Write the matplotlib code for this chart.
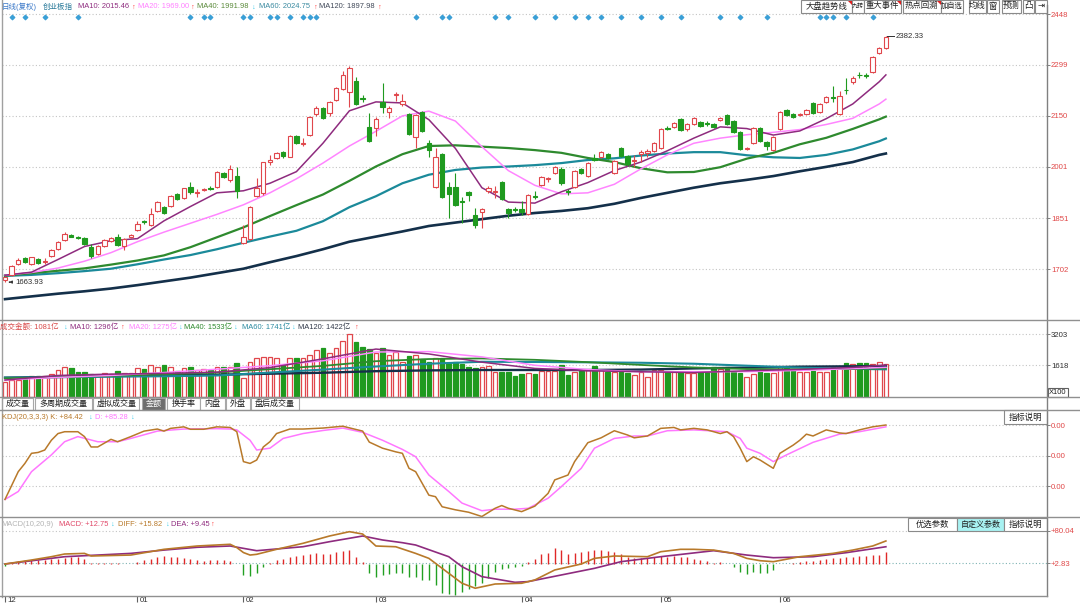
import matplotlib
matplotlib.use("Agg")
import matplotlib.pyplot as plt
from matplotlib.patches import Rectangle, Polygon
from matplotlib.lines import Line2D
from matplotlib.transforms import ScaledTranslation

plt.rcParams['font.family'] = ['Liberation Sans', 'Noto Sans CJK SC', 'DejaVu Sans']

# ---------------- data ----------------
month_labels = ['12', '01', '02', '03', '04', '05', '06']
month_start = [0, 20, 36, 56, 78, 99, 117]

opens = [1670, 1685, 1716, 1733, 1717, 1731, 1724, 1740, 1760, 1787,
         1802, 1796, 1794, 1767, 1746, 1769, 1785, 1797, 1769, 1795,
         1816, 1842, 1830, 1872, 1883, 1887, 1921, 1909, 1943, 1925,
         1934, 1939, 1943, 1982, 1962, 1974, 1777, 1789, 1916, 1924,
         2016, 2026, 2045, 2031, 2090, 2068, 2094, 2155, 2172, 2158,
         2196, 2228, 2221, 2252, 2202, 2118, 2115, 2191, 2162, 2211,
         2184, 2155, 2087, 2161, 2072, 1943, 2039, 1943, 1943, 1900,
         1926, 1860, 1870, 1931, 1927, 1958, 1877, 1879, 1877, 1863,
         1917, 1948, 1966, 1984, 1995, 1930, 1941, 1995, 1975, 2028,
         2031, 2038, 1982, 2055, 2034, 2019, 2040, 2042, 2047, 2055,
         2116, 2118, 2140, 2111, 2125, 2131, 2129, 2125, 2138, 2153,
         2135, 2102, 2054, 2072, 2115, 2074, 2050, 2112, 2167, 2155,
         2154, 2155, 2187, 2162, 2191, 2204, 2155, 2227, 2250, 2271,
         2269, 2279, 2333, 2348]
closes = [1678, 1711, 1728, 1722, 1736, 1721, 1727, 1758, 1780, 1804,
          1797, 1794, 1775, 1740, 1769, 1787, 1792, 1772, 1790, 1802,
          1834, 1839, 1863, 1897, 1867, 1916, 1906, 1938, 1926, 1927,
          1936, 1937, 1985, 1972, 1994, 1931, 1797, 1884, 1940, 2014,
          2021, 2042, 2033, 2090, 2072, 2072, 2148, 2174, 2145, 2190,
          2231, 2270, 2291, 2185, 2200, 2077, 2140, 2177, 2172, 2214,
          2194, 2097, 2153, 2106, 2050, 2031, 1914, 1921, 1889, 1898,
          1919, 1831, 1878, 1940, 1929, 1907, 1865, 1876, 1869, 1919,
          1912, 1972, 1968, 2000, 1955, 1926, 1989, 1982, 2011, 2021,
          2045, 2026, 2019, 2033, 2008, 2022, 2043, 2046, 2072, 2113,
          2112, 2128, 2109, 2126, 2143, 2121, 2127, 2118, 2145, 2125,
          2104, 2053, 2056, 2115, 2077, 2063, 2089, 2161, 2153, 2148,
          2156, 2167, 2158, 2184, 2206, 2202, 2209, 2225, 2262, 2269,
          2267, 2321, 2348, 2380]
highs = [1681, 1714, 1733, 1736, 1738, 1733, 1734, 1760, 1783, 1811,
         1805, 1800, 1797, 1776, 1771, 1790, 1795, 1806, 1793, 1805,
         1842, 1846, 1880, 1900, 1886, 1918, 1924, 1940, 1958, 1935,
         1940, 1946, 1988, 1985, 2006, 2000, 1831, 1886, 1967, 2016,
         2035, 2045, 2048, 2093, 2095, 2085, 2150, 2178, 2175, 2193,
         2234, 2280, 2297, 2265, 2210, 2158, 2146, 2246, 2180, 2220,
         2215, 2158, 2156, 2164, 2081, 2057, 2042, 1958, 1983, 1914,
         1929, 1880, 1880, 1945, 1945, 1961, 1880, 1884, 1900, 1921,
         1930, 1974, 1972, 2003, 2000, 1936, 1992, 1998, 2014, 2040,
         2048, 2041, 2022, 2058, 2037, 2035, 2050, 2052, 2075, 2115,
         2120, 2131, 2143, 2129, 2146, 2134, 2134, 2128, 2148, 2156,
         2138, 2105, 2060, 2118, 2118, 2077, 2092, 2164, 2170, 2158,
         2160, 2170, 2190, 2187, 2209, 2237, 2222, 2260, 2266, 2278,
         2277, 2324, 2352, 2382.33]
lows = [1663.93, 1683, 1713, 1719, 1715, 1718, 1717, 1737, 1757, 1785,
        1795, 1790, 1772, 1735, 1743, 1766, 1782, 1769, 1758, 1792,
        1813, 1835, 1828, 1869, 1863, 1885, 1903, 1906, 1923, 1912,
        1930, 1933, 1940, 1969, 1958, 1909, 1774, 1786, 1912, 1920,
        2005, 2023, 2028, 2029, 2068, 2062, 2090, 2150, 2142, 2150,
        2193, 2225, 2177, 2182, 2190, 2074, 2092, 2158, 2145, 2195,
        2180, 2094, 2056, 2103, 2031, 1940, 1911, 1850, 1886, 1836,
        1900, 1822, 1822, 1925, 1910, 1904, 1852, 1870, 1860, 1860,
        1908, 1945, 1958, 1980, 1948, 1920, 1938, 1979, 1972, 2017,
        2028, 2023, 1979, 2030, 2004, 2000, 2015, 2030, 2044, 2052,
        2108, 2115, 2105, 2107, 2122, 2118, 2120, 2115, 2135, 2122,
        2101, 2050, 2050, 2069, 2074, 2050, 2048, 2109, 2150, 2145,
        2150, 2152, 2155, 2159, 2188, 2190, 2152, 2215, 2242, 2262,
        2260, 2276, 2330, 2345]

# 成交金额
amount = [783, 868, 868, 1039, 1073, 1073, 1090, 1158, 1380, 1550,
          1465, 1294, 1260, 1158, 1124, 1209, 1158, 1329, 1209, 1209,
          1465, 1431, 1635, 1550, 1635, 1550, 1329, 1465, 1516, 1380,
          1414, 1380, 1516, 1516, 1550, 1755, 954, 1806, 1976, 2061,
          2061, 1976, 1635, 2010, 2010, 2010, 2146, 2401, 2487, 2231,
          2487, 2861, 3202, 2827, 2572, 2436, 2231, 2521, 2150, 2290,
          1806, 2095, 2146, 1925, 1806, 1976, 1976, 1755, 1772, 1686,
          1516, 1465, 1550, 1584, 1295, 1295, 1278, 1073, 1158, 1210,
          1175, 1346, 1346, 1346, 1635, 1124, 1295, 1346, 1380, 1584,
          1380, 1295, 1295, 1295, 1243, 1124, 1295, 1039, 1380, 1380,
          1295, 1295, 1295, 1243, 1243, 1295, 1295, 1516, 1414, 1516,
          1295, 1210, 1005, 1175, 1346, 1210, 1243, 1550, 1465, 1414,
          1295, 1295, 1346, 1295, 1295, 1516, 1516, 1720, 1686, 1720,
          1720, 1669, 1772, 1669]

# price moving averages, read every 4th bar
ma_idx = [0, 4, 8, 12, 16, 20, 24, 28, 32, 36, 40, 44, 48, 52, 56, 60, 64, 68,
          72, 76, 80, 84, 88, 92, 96, 100, 104, 108, 112, 116, 120, 124, 128, 132, 133]
ma10 = [1684, 1693, 1730, 1768, 1785, 1791, 1843, 1885, 1925, 1931, 1953, 1987, 2070, 2165,
        2191, 2188, 2139, 2055, 1940, 1898, 1895, 1928, 1955, 1990, 2015, 2048, 2085, 2118,
        2113, 2094, 2106, 2142, 2185, 2250, 2270]
ma20 = [1684, 1692, 1705, 1725, 1750, 1782, 1810, 1836, 1862, 1890, 1925, 1966, 2012, 2062,
        2105, 2150, 2164, 2135, 2060, 1990, 1947, 1922, 1925, 1950, 1995, 2036, 2070, 2085,
        2095, 2102, 2110, 2125, 2143, 2185, 2199]
ma40 = [1683, 1690, 1697, 1704, 1715, 1727, 1742, 1766, 1795, 1824, 1857, 1889, 1920, 1960,
        2002, 2038, 2062, 2064, 2060, 2056, 2050, 2042, 2027, 2015, 1997, 1985, 1986, 2000,
        2025, 2042, 2067, 2086, 2112, 2140, 2148]
ma60 = [1682, 1685, 1690, 1696, 1703, 1716, 1730, 1743, 1760, 1779, 1797, 1814, 1842, 1883,
        1915, 1953, 1978, 1992, 1999, 2002, 2006, 2012, 2021, 2026, 2034, 2040, 2044, 2044,
        2035, 2029, 2027, 2036, 2052, 2076, 2084]
ma120 = [1614, 1622, 1630, 1637, 1645, 1655, 1666, 1677, 1690, 1703, 1722, 1740, 1760, 1782,
         1797, 1812, 1828, 1838, 1848, 1858, 1866, 1872, 1880, 1893, 1910, 1925, 1940, 1953,
         1963, 1974, 1988, 2001, 2015, 2036, 2040]

# amount moving averages, read every 8th bar
vma_idx = [0, 8, 16, 24, 32, 40, 48, 56, 64, 72, 80, 88, 96, 104, 112, 120, 128, 133]
vma10 = [868, 1100, 1170, 1205, 1270, 1500, 1950, 2450, 2200, 1780, 1460, 1340, 1290, 1250, 1340, 1410, 1510, 1635]
vma20 = [868, 1000, 1100, 1250, 1420, 1600, 1850, 2300, 2320, 2050, 1620, 1400, 1295, 1295, 1295, 1360, 1450, 1516]
vma40 = [954, 1010, 1080, 1160, 1250, 1420, 1590, 1830, 1940, 1970, 1900, 1780, 1640, 1510, 1430, 1414, 1430, 1465]
vma60 = [987, 1010, 1040, 1060, 1100, 1250, 1400, 1560, 1700, 1800, 1790, 1772, 1750, 1700, 1600, 1500, 1440, 1414]
vma120 = [987, 1030, 1070, 1100, 1140, 1190, 1240, 1320, 1360, 1380, 1380, 1380, 1400, 1460, 1500, 1550, 1570, 1584]

# KDJ
k_idx = [0, 2, 3, 4, 5, 6, 7, 8, 9, 11, 12, 13, 14, 16, 17, 19, 21, 23, 24, 25, 27, 28, 30, 32,
         34, 35, 36, 37, 38, 39, 40, 41, 43, 45, 48, 51, 54, 55, 57, 59, 60, 61, 62, 64, 65, 66,
         68, 70, 72, 74, 75, 76, 78, 80, 82, 83, 85, 86, 88, 90, 92, 94, 95, 97, 99, 101, 102,
         104, 106, 108, 109, 110, 111, 112, 113, 114, 116, 117, 119, 120, 121, 122, 124, 126,
         127, 129, 131, 133]
k_val = [-22, 23.5, 37, 53.6, 55, 59, 75, 86, 89, 89, 81, 64, 64, 76.5, 72.6, 81, 90, 93.4, 90,
         94.5, 97, 93, 93, 97, 96, 89, 40, 37, 42.6, 64, 72.6, 86, 93.4, 93.4, 95, 98, 90, 72, 62,
         56, 53.6, 29, 23.5, -15, -17.5, -34, -39, -43, -50, -36.5, -32, -36.5, -42, -33, -12,
         10, 18, 40, 71, 79, 90.6, 83.6, 79, 82, 94.5, 96, 92, 94.5, 92, 86, 89, 81, 62, 40, 48,
         42.6, 29, 53.6, 67, 75, 85, 82, 92, 87, 86, 92, 97, 100]
d_idx = [0, 2, 4, 7, 9, 11, 14, 17, 19, 23, 27, 32, 34, 35, 37, 38, 40, 42, 45, 48, 51, 54, 57,
         60, 62, 64, 67, 69, 72, 74, 77, 79, 82, 84, 87, 89, 92, 95, 97, 100, 104, 109, 111, 112,
         114, 116, 118, 122, 126, 129, 133]
d_val = [-22, -9, 23.5, 51, 72.6, 81, 72.6, 72.6, 78, 90, 93.4, 94, 93.4, 92, 75, 59, 62, 78, 86,
         91, 95, 88, 75, 60, 48, 18, -9, -28, -40.5, -38, -38, -36.5, -20, -1, 29, 62, 78, 82, 82,
         90.6, 92, 89, 78, 62, 53.6, 40, 51, 71.6, 85, 89, 97]

# MACD
diff_idx = [0, 4, 7, 9, 12, 13, 19, 24, 29, 34, 35, 36, 37, 38, 41, 45, 49, 52, 54, 55, 56, 59,
            62, 64, 67, 69, 71, 74, 78, 80, 83, 87, 89, 92, 97, 99, 102, 104, 107, 110, 112, 114,
            116, 120, 125, 128, 131, 133]
diff_val = [0.4, 10, 18, 24.5, 26, 19.7, 22, 35.8, 43.8, 47.9, 40, 28, 22, 23.8, 35.8, 50.3, 67.9,
            78.3, 72.7, 58.3, 43.8, 42, 26, 14, -22, -46, -58, -47.8, -46, -38, -14, 0.4, 14,
            19.7, 18, 30, 35.8, 35.8, 34, 26, 14, 8.4, 6, 18, 26, 34, 43.8, 55.9]
dea_idx = [0, 9, 14, 19, 24, 29, 34, 38, 45, 49, 54, 57, 60, 62, 67, 69, 72, 77, 79, 84, 89, 93,
           99, 107, 112, 116, 122, 127, 133]
dea_val = [0.4, 18, 22, 26, 34, 40.7, 43.8, 32.5, 42.1, 54.2, 67.9, 58.3, 51.8, 46.2, 18, -6, -30,
           -43.7, -42, -26, -10, 6, 18, 32.5, 22, 15.6, 18, 27.7, 42]
macd_bar = [-4, 5.6, 8, 9.6, 9.6, 9.6, 9.6, 12, 13.6, 15.3,
            17.7, 17.7, 13.6, 3.2, 3.2, 2.4, 3.2, 2, 0.5, 1.6,
            5.6, 9.6, 12, 17.7, 19.3, 17.7, 17.7, 16, 13.6, 11.2,
            8, 9.6, 9.6, 9.6, 8, 1, -26.5, -29, -21, -6.4,
            3.2, 11.2, 13.6, 17.7, 19.3, 21.7, 25.7, 28, 25.7, 25.7,
            29.7, 32, 33.7, 17.7, 5.6, -21, -30.5, -26.5, -22.5, -21,
            -21, -30.5, -30.5, -38.5, -38.5, -50.6, -69, -70.7, -74.7, -66.6,
            -60.2, -53, -45, -34.5, -18.5, -12.8, -10.4, -8, -4.8, 5.6,
            12, 24, 27.3, 39.3, 33.7, 25.7, 27.3, 29.7, 32, 33.7,
            35.3, 32, 29.7, 24, 17.7, 16, 16, 16, 17.7, 19.3,
            17.7, 19.3, 17.7, 17.7, 13.6, 11.2, 8, 3.2, 5.6, 0.5,
            -6.4, -18.5, -24, -18.5, -21, -21, -14.5, 0.8, 0.5, 3.2,
            5.6, 8, 8, 11.2, 13.6, 16, 16, 17.7, 17.7, 19.3,
            19.3, 21.7, 23.3, 29.7]

# bars flagged with the small blue diamond on top
signal_idx = [1, 3, 6, 11, 28, 30, 31, 36, 37, 40, 41, 43, 45, 46, 47, 62, 66, 67, 74, 76,
              80, 83, 86, 88, 90, 93, 96, 99, 102, 108, 111, 115, 123, 124, 125, 127, 131]

price_ticks = [1702, 1851, 2001, 2150, 2299, 2448]

# ---------------- figure ----------------
W, H = 1080, 607
fig = plt.figure(figsize=(10.8, 6.07), dpi=100)
fig.patch.set_facecolor('white')

RED = '#e0474c'
GREEN = '#1f9a1f'
C10, C20, C40, C60, C120 = '#8e2b7e', '#ff85ff', '#2e8a2e', '#1b8a9a', '#14304a'
KCOL = '#b8792a'
GRID = dict(color='#c4c4c4', linestyle=(0, (1, 2)), linewidth=0.8)
FS = 5.4


def fx(x):
    return x / W


def fy(y):
    return 1 - y / H


def panel(y0, y1):
    ax = fig.add_axes([fx(2), fy(y1), fx(1046.5) - fx(2), (y1 - y0) / H])
    ax.set_xlim(-0.453, 157.25)
    for s in ax.spines.values():
        s.set_visible(False)
    ax.set_xticks([])
    ax.yaxis.tick_right()
    ax.tick_params(axis='y', length=2.2, width=0.7, color='#808080', pad=1,
                   labelsize=5.6, direction='out')
    ax.patch.set_alpha(0)
    return ax


def hline(y, x0=0, x1=W, color='#909090', lw=1.0):
    fig.add_artist(Line2D([fx(x0), fx(x1)], [fy(y), fy(y)], color=color, lw=lw))


def segs(y, items, fs=FS):
    for x, s, c in items:
        fig.text(fx(x), fy(y), s, color=c, fontsize=fs, va='center', ha='left')


def button(x0, x1, y0, y1, s, fc='white', fs=6.0, ec='#8a8a8a'):
    fig.add_artist(Rectangle((fx(x0), fy(y1)), fx(x1) - fx(x0), fy(y0) - fy(y1),
                             transform=fig.transFigure, fc=fc, ec=ec, lw=0.8))
    fig.text(fx((x0 + x1) / 2), fy((y0 + y1) / 2), s, ha='center', va='center',
             fontsize=fs, color='#202020')


n = len(closes)
idx = list(range(n))
up = [c >= o for o, c in zip(opens, closes)]

# ---- main price panel ----
axk = panel(12, 320)
axk.set_ylim(1553, 2454)
axk.set_yticks(price_ticks, [str(t) for t in price_ticks])
axk.tick_params(axis='y', labelcolor='#e04848')
axk.grid(axis='y', **GRID)

axk.vlines(idx, lows, highs, colors=[RED if u else GREEN for u in up], lw=0.8, zorder=3)
bottoms = [min(o, c) for o, c in zip(opens, closes)]
heights = [max(abs(c - o), 1.5) for o, c in zip(opens, closes)]
axk.bar(idx, heights, bottom=bottoms, width=0.66,
        color=['white' if u else GREEN for u in up],
        edgecolor=[RED if u else GREEN for u in up], lw=0.8, zorder=4)

axk.plot(ma_idx, ma120, color=C120, lw=1.9, zorder=2)
axk.plot(ma_idx, ma60, color=C60, lw=1.6, zorder=2)
axk.plot(ma_idx, ma40, color=C40, lw=1.6, zorder=2)
axk.plot(ma_idx, ma20, color=C20, lw=1.1, zorder=2)
axk.plot(ma_idx, ma10, color=C10, lw=1.1, zorder=2)

axk.scatter(signal_idx, [0.984] * len(signal_idx), marker='D', s=5, color='#3a9fd6',
            transform=axk.get_xaxis_transform(), zorder=5, clip_on=False)

last = n - 1
axk.plot([last + 0.2, last + 1.2], [highs[last]] * 2, color='#303030', lw=0.7)
axk.text(last + 1.4, highs[last], f'{highs[last]:.2f}', fontsize=5.6, va='center', color='#303030')
axk.annotate(f'{lows[0]:.2f}', xy=(0.2, lows[0]), xytext=(1.5, lows[0]), fontsize=5.6,
             va='center', color='#303030',
             arrowprops=dict(arrowstyle='-|>', color='#303030', lw=0.7, mutation_scale=4))

# ---- amount panel ----
axv = panel(320, 397)
axv.set_ylim(0, 3935)
axv.set_yticks([1618, 3203], ['1618', '3203'])
axv.tick_params(axis='y', labelcolor='#303030')
axv.grid(axis='y', **GRID)
axv.bar(idx, amount, width=0.7, color=['white' if u else GREEN for u in up],
        edgecolor=[RED if u else GREEN for u in up], lw=0.9, zorder=2)
axv.plot(vma_idx, vma120, color=C120, lw=1.7, zorder=3)
axv.plot(vma_idx, vma60, color=C60, lw=1.5, zorder=3)
axv.plot(vma_idx, vma40, color=C40, lw=1.3, zorder=3)
axv.plot(vma_idx, vma20, color=C20, lw=1.1, zorder=3)
axv.plot(vma_idx, vma10, color=C10, lw=1.1, zorder=3)

# ---- KDJ panel ----
axj = panel(410, 517)
axj.set_ylim(-50.8, 124.6)
axj.set_yticks([0, 50, 100], ['0.00'] * 3)
axj.tick_params(axis='y', labelcolor='#e04848')
axj.grid(axis='y', **GRID)
axj.plot(d_idx, d_val, color='#ff77ff', lw=1.1)
axj.plot(k_idx, k_val, color=KCOL, lw=1.1)

# ---- MACD panel ----
axm = panel(517, 596)
axm.set_ylim(-76.7, 113.7)
axm.set_yticks([2.83, 80.04], ['+2.83', '+80.04'])
axm.tick_params(axis='y', labelcolor='#e04848')
axm.axhline(80.04, **GRID)
axm.axhline(2.83, color='#80b4b4', linestyle=(0, (1, 2)), lw=0.8)
axm.vlines(idx, 0, macd_bar, colors=['#e02828' if v >= 0 else '#22a022' for v in macd_bar], lw=1.0)
axm.plot(dea_idx, dea_val, color=C10, lw=1.2)
axm.plot(diff_idx, diff_val, color=KCOL, lw=1.2)

axm.set_xticks(month_start, month_labels)
axm.tick_params(axis='x', length=4.5, width=0.8, color='#606060', labelsize=5.6,
                labelcolor='#303030', pad=-4)
for lab in axm.get_xticklabels():
    lab.set_horizontalalignment('left')
    lab.set_transform(lab.get_transform() + ScaledTranslation(2 / 72, 0, fig.dpi_scale_trans))

# ---- frame lines ----
fig.add_artist(Line2D([fx(2), fx(2)], [fy(0), fy(597)], color='#a0a0a0', lw=1.0))
fig.add_artist(Line2D([fx(1046.5), fx(1046.5)], [fy(5), fy(596)], color='#808080', lw=1.0))
for yy in (320, 397, 410, 517):
    hline(yy)
hline(596, 0, 1046.5)

# ---- header texts ----
UPA, DNA = '#ff3a3a', '#30c8e8'
segs(7, [(1.5, '日线(复权)', '#3a78c8'), (43, '创业板指', '#2a7a9a'),
         (78, 'MA10: 2015.46', C10), (131.5, '↑', UPA),
         (138, 'MA20: 1969.00', '#ff80ff'), (190.5, '↑', UPA),
         (197, 'MA40: 1991.98', '#5a8a3a'), (251.5, '↓', DNA),
         (259, 'MA60: 2024.75', '#3a8aa0'), (313.5, '↑', UPA),
         (319, 'MA120: 1897.98', '#404858'), (377.5, '↑', UPA)])
segs(327, [(0, '成交金额: 1081亿', '#d84848'), (63.5, '↓', DNA),
           (70, 'MA10: 1296亿', C10), (120.5, '↑', UPA),
           (129, 'MA20: 1275亿', '#ff80ff'), (179, '↓', DNA),
           (184, 'MA40: 1533亿', '#2e8a2e'), (234, '↓', DNA),
           (242, 'MA60: 1741亿', '#2a8aa0'), (291.5, '↓', DNA),
           (298, 'MA120: 1422亿', '#303848'), (354.5, '↑', UPA)])
segs(417.5, [(1.5, 'KDJ(20,3,3,3) K: +84.42', KCOL), (89, '↓', DNA),
             (95, 'D: +85.28', '#ff77ff'), (130.5, '↓', DNA)])
segs(524, [(1.5, 'MACD(10,20,9)', '#b4b4b4'), (59, 'MACD: +12.75', '#e04868'), (110.5, '↓', DNA),
           (118, 'DIFF: +15.82', KCOL), (165.5, '↓', DNA),
           (171, 'DEA: +9.45', C10), (210.5, '↑', UPA)])

# tabs under the amount panel
tabs = [('成交量', 1.7, 33.3), ('多周期成交量', 35, 91.7), ('虚拟成交量', 93.3, 139.3),
        ('金额', 141.7, 165), ('换手率', 166.7, 200), ('内盘', 200, 225),
        ('外盘', 226, 250), ('盘后成交量', 250.7, 299.3)]
for name, x0, x1 in tabs:
    sel = name == '金额'
    fig.add_artist(Rectangle((fx(x0), fy(410)), fx(x1) - fx(x0), fy(398) - fy(410),
                             transform=fig.transFigure, fc='#6e6e6e' if sel else 'white',
                             ec='#a8a8a8', lw=0.8))
    fig.text(fx((x0 + x1) / 2), fy(404), name, ha='center', va='center', fontsize=5.8,
             color='white' if sel else '#202020')

# toolbar top right
tools = [('大盘趋势线', 800.7, 851.7), ('九转', 851.7, 864), ('重大事件', 864, 900.7),
         ('热点回溯', 902.7, 940.7), ('加自选', 940.7, 962.7), ('均线', 968.7, 986),
         ('窗', 986.7, 999.3), ('预测', 1001.7, 1020.7), ('凸', 1022.7, 1034), ('⇥', 1035, 1046.5)]
for name, x0, x1 in tools:
    fs = 4.3 if name == '九转' else (5.2 if name == '加自选' else 6.0)
    button(x0, x1, 0, 12.5, name, fs=fs)
for name, x0, x1 in tools:
    if name in ('大盘趋势线', '重大事件', '热点回溯'):
        fig.add_artist(Polygon([(fx(x1 - 4), fy(0.5)), (fx(x1), fy(0.5)), (fx(x1), fy(4.5))],
                               closed=True, transform=fig.transFigure, fc='#e02020', ec='none'))

# indicator buttons
button(1004, 1046.5, 410.5, 424, '指标说明')
button(908, 956.5, 518, 531, '优选参数')
button(956.5, 1004, 518, 531, '自定义参数', fc='#a8f2f2', fs=5.8)
button(1004, 1046.5, 518, 531, '指标说明')
button(1048, 1068, 388, 397, 'X100', fs=5.4, ec='#606060')

fig.savefig('out.png', dpi=100)
